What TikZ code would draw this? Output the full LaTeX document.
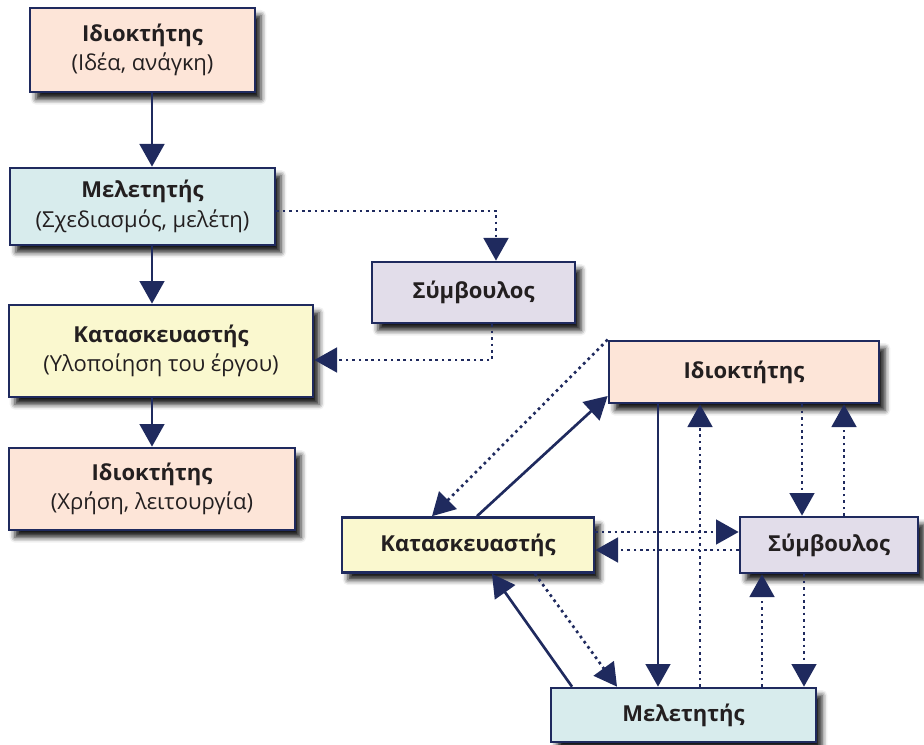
\documentclass[tikz,border=0pt]{standalone}
\usepackage{fontspec}
\setmainfont{Open Sans}
\usetikzlibrary{arrows.meta,calc,shadows.blur}
\definecolor{navy}{HTML}{1F2A5E}
\definecolor{txt}{HTML}{231F20}
\definecolor{ownerfill}{HTML}{FDE5D8}
\definecolor{designfill}{HTML}{D8ECED}
\definecolor{builderfill}{HTML}{FAF8CF}
\definecolor{advisorfill}{HTML}{E2DDEA}
\begin{document}
\begin{tikzpicture}
        [x=0.75pt,y=-0.75pt,
         every node/.style={draw=navy,line width=2pt,align=center,text=txt,
           font=\fontsize{16.5}{22}\selectfont,inner sep=0pt,
           blur shadow={shadow xshift=4.5pt,shadow yshift=-5.5pt,shadow blur radius=4pt,shadow opacity=90}},
         box/.style 2 args={minimum width=0.75*#1,minimum height=0.75*#2},
         owner/.style={fill=ownerfill},
         design/.style={fill=designfill},
         builder/.style={fill=builderfill},
         advisor/.style={fill=advisorfill},
         flow/.style={draw=navy,line width=2pt,-{Triangle[length=17pt,width=18.5pt]}},
         info/.style={draw=navy,line width=2pt,dash pattern=on 2pt off 2.8pt,-{Triangle[length=17pt,width=18.5pt]}}]
        \useasboundingbox (0,0) rectangle (924,745);
        %Left side
        \node[owner,box={225}{84}]   (I1) at (142.5,50)    {\textbf{Ιδιοκτήτης}\\(Ιδέα, ανάγκη)};
        \node[design,box={265}{77}]  (M1) at (142.5,206.5) {\textbf{Μελετητής}\\(Σχεδιασμός, μελέτη)};
        \node[builder,box={304}{92}] (K1) at (161,351)     {\textbf{Κατασκευαστής}\\(Υλοποίηση του έργου)};
        \node[owner,box={286}{82}]   (I2) at (152,489)     {\textbf{Ιδιοκτήτης}\\(Χρήση, λειτουργία)};
        \node[advisor,box={203}{61}] (S1) at (473.5,292.5) {\textbf{Σύμβουλος}};

        \draw[flow] (I1.south -| I2.north) -- (M1.north -| I2.north);
        \draw[flow] (M1.south -| I2.north) -- (K1.north -| I2.north);
        \draw[flow] (K1.south -| I2.north) -- (I2.north);
        \draw[info] ($(M1.east)+(0,4.5)$) -| ($(S1.north)+(22.5,0)$);
        \draw[info] ($(S1.south)+(18.5,0)$) |- ($(K1.east)+(0,9)$);

        %Right side
        \node[owner,box={270}{62}]   (I3) at (744,372)   {\textbf{Ιδιοκτήτης}};
        \node[builder,box={252}{55}] (K2) at (468,545)   {\textbf{Κατασκευαστής}};
        \node[advisor,box={178}{56}] (S2) at (829,545)   {\textbf{Σύμβουλος}};
        \node[design,box={265}{54}]  (M2) at (683.5,715) {\textbf{Μελετητής}};

        \draw[info] (I3.north west) -- ($(K2.north)+(-36,0)$);
        \draw[flow] ($(K2.north)+(9,0)$) -- ($(I3.west)+(0,24)$);
        \draw[flow] ($(I3.south)+(-86,0)$) -- ($(M2.north)+(-25.5,0)$);
        \draw[info] ($(M2.north)+(16.5,0)$) -- ($(I3.south)+(-44,0)$);
        \draw[info] ($(I3.south)+(58,0)$) -- ($(S2.north)+(-27,0)$);
        \draw[info] ($(S2.north)+(15,0)$) -- ($(I3.south)+(100,0)$);
        \draw[info] ($(K2.east)+(0,-13)$) -- ($(S2.west)+(0,-13)$);
        \draw[info] ($(S2.west)+(0,5)$) -- ($(K2.east)+(0,5)$);
        \draw[info] ($(M2.north)+(78.5,0)$) -- ($(S2.south)+(-67,0)$);
        \draw[info] ($(S2.south)+(-25,0)$) -- ($(M2.north)+(120.5,0)$);
        \draw[flow] ($(M2.north)+(-111.5,0)$) -- ($(K2.south)+(24,0)$);
        \draw[info] ($(K2.south)+(67,0)$) -- ($(M2.north)+(-66.5,0)$);
\end{tikzpicture}
\end{document}
